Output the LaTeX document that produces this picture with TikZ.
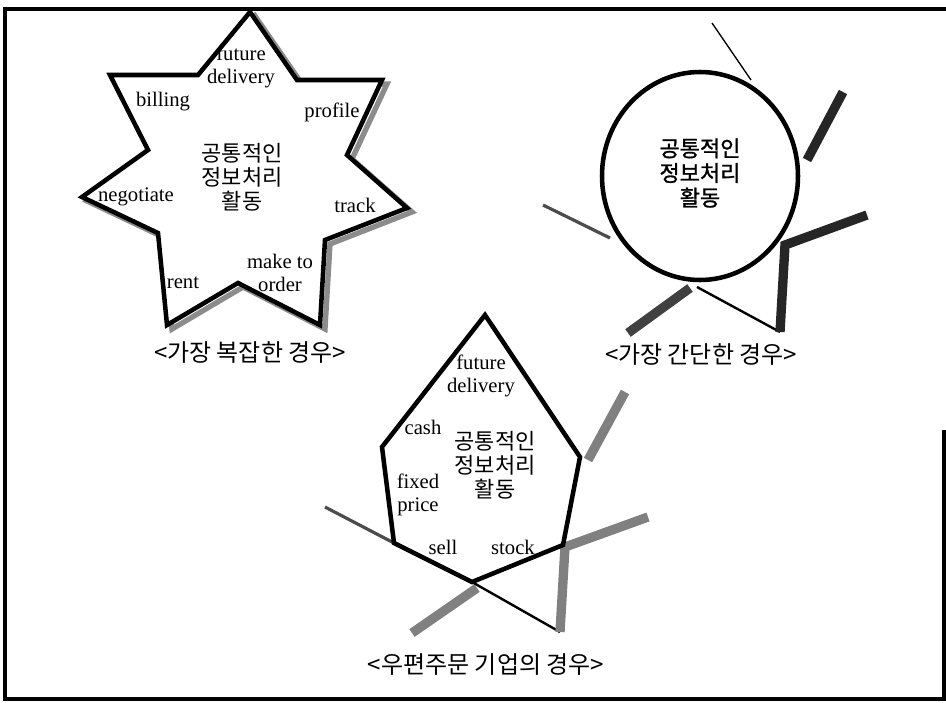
\documentclass[tikz,border=0pt]{standalone}
\usepackage{fontspec}
\setmainfont{Liberation Serif}
\newfontfamily\kr{Noto Sans CJK KR}
\newfontfamily\krb[FakeBold=1.2]{Noto Sans CJK KR}
\begin{document}
\begin{tikzpicture}[x=0.75pt,y=-0.75pt,
  en/.style={font=\fontsize{15.5}{17.5}\selectfont, align=center, inner sep=0pt},
  ko/.style={font=\kr\fontsize{16.5}{18}\selectfont, align=center, inner sep=0pt},
  kob/.style={font=\krb\fontsize{16.5}{18.5}\selectfont, align=center, inner sep=0pt},
  captext/.style={font=\kr\fontsize{18}{20}\selectfont, inner sep=0pt},
  outline/.style={draw=black, line width=3.4pt, line join=miter, fill=white},
  shadowline/.style={draw=black!45, line width=4pt, line join=miter},
  frame/.style={draw=black, line width=3.2pt},
  thinline/.style={draw=black, line width=1.8pt},
  hairline/.style={draw=black, line width=1pt},
  greyline/.style={draw=black!70, line width=2.4pt},
  greybar/.style={draw=black!50, line width=7pt},
  darkbar/.style={draw=black!85, line width=7pt, line join=miter}]
\useasboundingbox (0,0) rectangle (946,703);
% frame
\draw[frame] (944,430) -- (944,699) -- (5,699) -- (5,9) -- (946,9);

% ---------- star ----------
\begin{scope}[shift={(5,4)}]
\draw[shadowline] (250,12) -- (198,75) -- (110,75) -- (148,150) -- (82,197) -- (158,233) -- (167,325) -- (238,283) -- (320,325) -- (325,240) -- (407,208) -- (347,155) -- (382,80) -- (297,80) -- cycle;
\end{scope}
\draw[outline] (250,12) -- (198,75) -- (110,75) -- (148,150) -- (82,197) -- (158,233) -- (167,325) -- (238,283) -- (320,325) -- (325,240) -- (407,208) -- (347,155) -- (382,80) -- (297,80) -- cycle;
\node[en] (s1) at (241,67) {future\\delivery};
\node[en] (s2) at (163,102) {billing};
\node[en] (s3) at (332,112) {profile};
\node[ko] (s4) at (242,177) {공통적인\\정보처리\\활동};
\node[en] (s5) at (136,197) {negotiate};
\node[en] (s6) at (355,205) {track};
\node[en] (s7) at (280,273) {make to\\order};
\node[en] (s8) at (183,283) {rent};
\node[captext] (c1) at (250,353) {<가장 복잡한 경우>};

% ---------- circle ----------
\draw[hairline] (712,23) -- (751,80);
\draw[darkbar] (843,92) -- (807,160);
\draw[greyline] (543,205) -- (610,238);
\draw[darkbar, draw=black!75] (690,288) -- (628,333);
\draw[thinline] (697,287) -- (780,332);
\draw[darkbar] (780,332) -- (785,245) -- (867,215);
\draw[outline] (700,176) ellipse [x radius=98, y radius=104];
\node[kob] (k1) at (700,173) {공통적인\\정보처리\\활동};
\node[captext] (c2) at (701,355) {<가장 간단한 경우>};

% ---------- pentagon ----------
\draw[greyline] (325,507) -- (394,543);
\draw[greybar] (477,588) -- (412,633);
\draw[thinline] (472,582) -- (560,632);
\draw[greybar, line join=miter] (560,632) -- (565,547) -- (648,517);
\draw[greybar] (588,460) -- (625,392);
\draw[outline, fill=none] (485,315) -- (580,457) -- (563,545) -- (472,582) -- (394,543) -- (382,447) -- cycle;
\node[en] (p1) at (481,376) {future\\delivery};
\node[en] (p2) at (423,427) {cash};
\node[ko] (p3) at (495,465) {공통적인\\정보처리\\활동};
\node[en] (p4) at (418,495) {fixed\\price};
\node[en] (p5) at (443,547) {sell};
\node[en] (p6) at (513,547) {stock};
\node[captext] (c3) at (486,665) {<우편주문 기업의 경우>};
\end{tikzpicture}
\end{document}
